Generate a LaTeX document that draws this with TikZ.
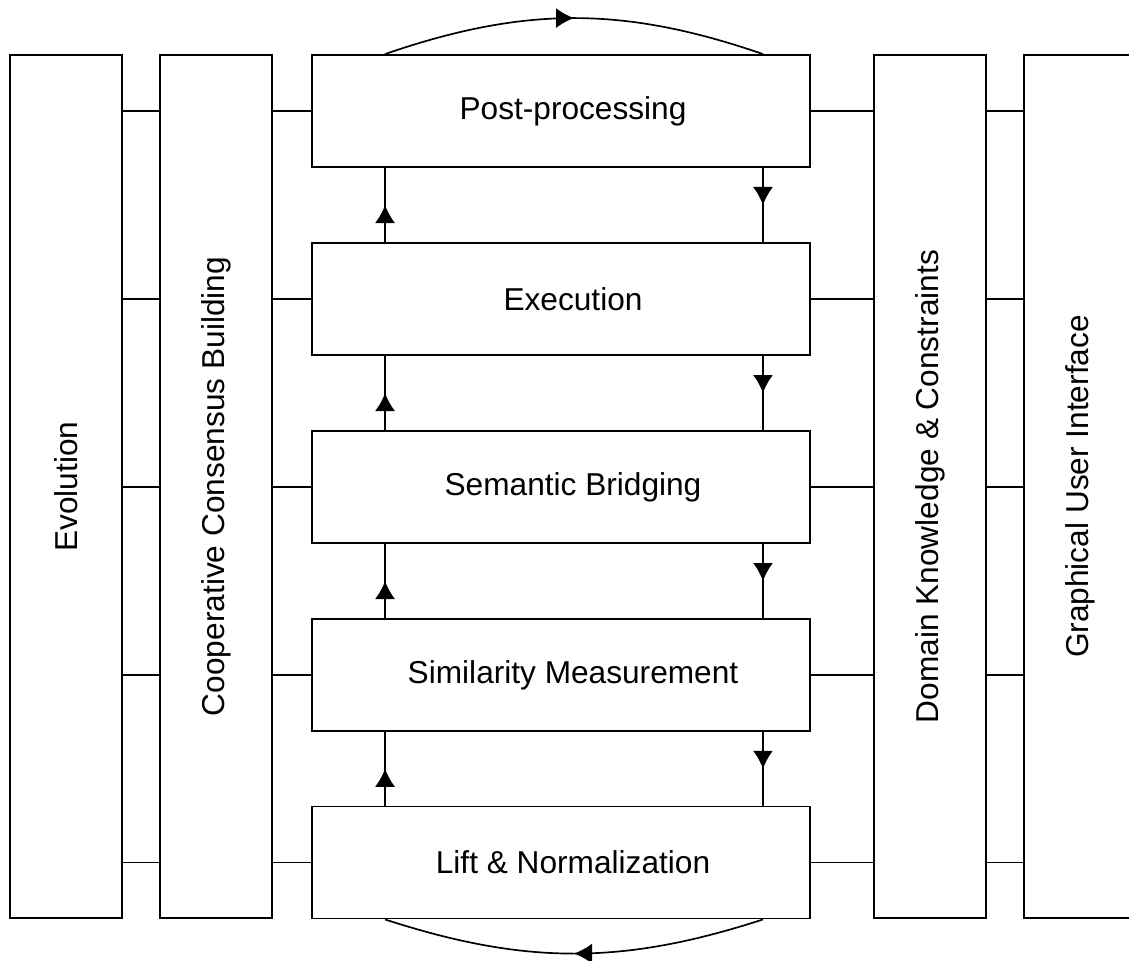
\documentclass[tikz,border=0pt]{standalone}
\usepackage{fontspec}
\setmainfont{Liberation Sans}
\usetikzlibrary{arrows.meta,decorations.markings}
\tikzset{
layer box/.style={
  draw,
  line width=1.3pt,
  minimum width=2.8cm,
  minimum height=21.575cm,
  inner sep=0pt,
  font=\fontsize{22.5}{27}\selectfont
},
stage box/.style={
  draw,
  line width=1.3pt,
  minimum width=12.45cm,
  minimum height=2.8cm,
  inner sep=0pt,
  font=\fontsize{22.5}{27}\selectfont,
  execute at begin node=\hspace*{0.6cm}
},
link line/.style={line width=1.2pt},
flow mid/.style={
  line width=1.2pt,
  postaction={decorate},
  decoration={markings,
    mark=at position 0.5 with {\arrow{Latex[length=0.45cm,width=0.5cm]}}}
}
}
\begin{document}
\begin{tikzpicture}[x=0.025cm,y=-0.025cm]
\useasboundingbox (0,0) rectangle (1129,960);
\clip (0,0) rectangle (1129,960);
% side layers
\node[layer box] (evo) at (66,486.5) {\rotatebox{90}{Evolution}};
\node[layer box] (ccb) at (216,486.5) {\rotatebox{90}{Cooperative Consensus Building}};
\node[layer box] (dkc) at (930,486.5) {\rotatebox{90}{Domain Knowledge \& Constraints}};
\node[layer box] (gui) at (1080,486.5) {\rotatebox{90}{Graphical User Interface}};
% pipeline stages
\node[stage box] (post) at (561,111) {Post-processing};
\node[stage box] (exec) at (561,299) {Execution};
\node[stage box] (sem) at (561,487) {Semantic Bridging};
\node[stage box] (sim) at (561,675) {Similarity Measurement};
\node[stage box] (lift) at (561,862.5) {Lift \& Normalization};
% links to the layers
\foreach \s in {post,exec,sem,sim,lift} {
  \draw[link line] (evo.east |- \s) -- (ccb.west |- \s);
  \draw[link line] (ccb.east |- \s) -- (\s.west);
  \draw[link line] (\s.east) -- (dkc.west |- \s);
  \draw[link line] (dkc.east |- \s) -- (gui.west |- \s);
}
% up and down flow
\foreach \a/\b in {lift/sim,sim/sem,sem/exec,exec/post} {
  \draw[flow mid] ([xshift=1.85cm]\a.north west) -- ([xshift=1.85cm]\b.south west);
  \draw[flow mid] ([xshift=-1.2cm]\b.south east) -- ([xshift=-1.2cm]\a.north east);
}
\draw[flow mid] ([xshift=1.85cm]post.north west) to[bend left=19] ([xshift=-1.2cm]post.north east);
\draw[flow mid] ([xshift=-1.2cm]lift.south east) to[bend left=18] ([xshift=1.85cm]lift.south west);
\end{tikzpicture}
\end{document}
